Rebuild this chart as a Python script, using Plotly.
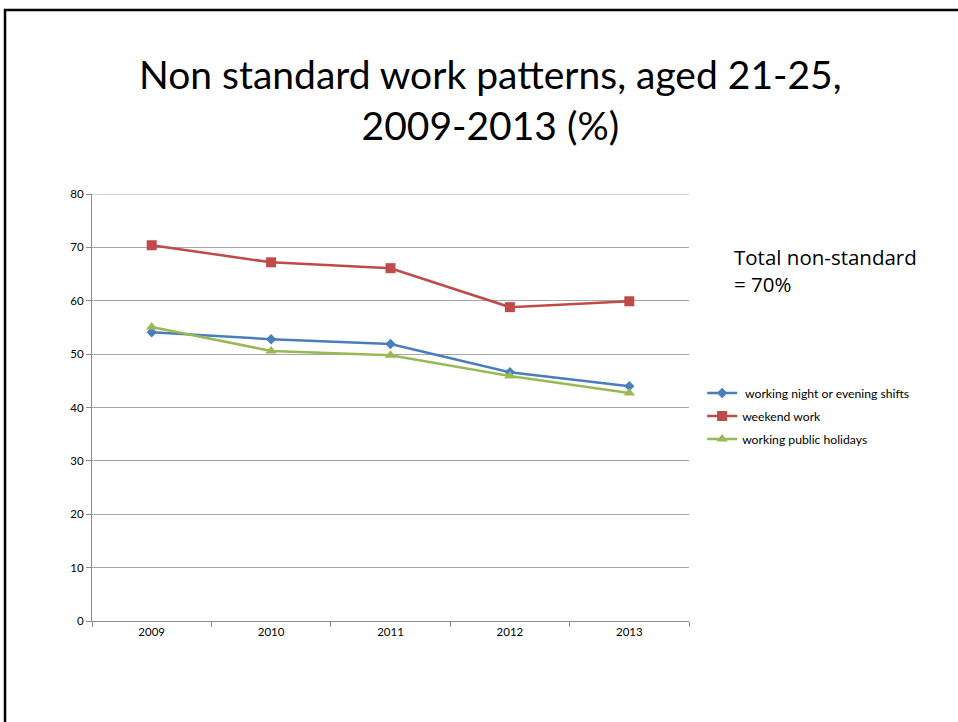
import plotly.graph_objects as go

years = ["2009", "2010", "2011", "2012", "2013"]
night_evening = [54.1, 52.8, 51.9, 46.6, 44.0]
weekend = [70.4, 67.2, 66.1, 58.8, 59.9]
public_holidays = [55.1, 50.6, 49.8, 45.9, 42.7]

series_names = [" working night or evening shifts", "weekend work", "working public holidays"]
series_vals = [night_evening, weekend, public_holidays]
colors = ["#4A7EBB", "#BE4B48", "#98B954"]
symbols = ["diamond", "square", "triangle-up"]
msizes = [8, 10, 10]

FONT = "Lato"

fig = go.Figure()
for i, (name, vals, c, s, ms) in enumerate(zip(series_names, series_vals, colors, symbols, msizes)):
    fig.add_trace(go.Scatter(
        x=years, y=vals, name=name, mode="lines+markers", legendgroup=f"g{i}",
        line=dict(color=c, width=2.5),
        marker=dict(symbol=s, size=ms, color=c),
    ))

fig.update_layout(
    width=958, height=722,
    paper_bgcolor="white", plot_bgcolor="white",
    margin=dict(l=92, r=269, t=194, b=101),
    font=dict(family=FONT, color="black", size=11.5),
    showlegend=True,
    legend=dict(
        x=1.022, y=0.48, xanchor="left", yanchor="middle",
        font=dict(size=12.2, family=FONT), bgcolor="rgba(0,0,0,0)",
        traceorder="grouped", tracegroupgap=4, itemwidth=30,
    ),
    xaxis=dict(
        type="category", tickson="boundaries", ticks="outside", ticklen=5,
        tickcolor="#8C8C8C", showline=True, linecolor="#8C8C8C", linewidth=1,
        showgrid=False, tickfont=dict(size=11.5), range=[-0.5, 4.5],
    ),
    yaxis=dict(
        range=[0, 80], tickvals=[0, 10, 20, 30, 40, 50, 60, 70, 80],
        ticks="outside", ticklen=5, tickcolor="#8C8C8C",
        showline=True, linecolor="#8C8C8C", linewidth=1,
        showgrid=True, gridcolor="#A6A6A6", gridwidth=1, zeroline=False,
        tickfont=dict(size=11.5),
    ),
    annotations=[
        dict(text="Non standard work patterns, aged 21-25,<br>2009-2013 (%)",
             xref="paper", yref="paper", x=0.667, y=1.222,
             xanchor="center", yanchor="middle", showarrow=False,
             font=dict(size=39, family=FONT, color="black")),
        dict(text="Total non-standard<br>= 70%",
             xref="paper", yref="paper", x=1.072, y=0.822,
             xanchor="left", yanchor="middle", align="left", showarrow=False,
             font=dict(size=20.5, family="Open Sans", color="black")),
    ],
    shapes=[
        dict(type="line", xref="paper", yref="y", x0=0, x1=1, y0=80, y1=80,
             line=dict(color="#A6A6A6", width=1), layer="below"),
        dict(type="rect", xref="paper", yref="paper",
             x0=-0.1457, y0=-0.5, x1=1.6, y1=1.431,
             line=dict(color="black", width=2.5), fillcolor="rgba(0,0,0,0)"),
    ],
)

fig.write_html("out.html")
